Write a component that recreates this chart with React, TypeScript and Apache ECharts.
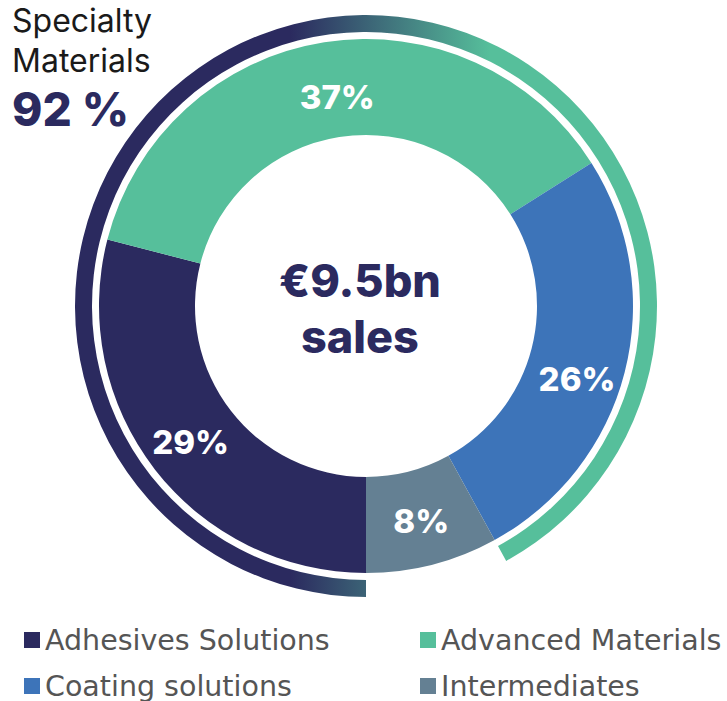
import React, { useEffect, useRef } from "react";
import * as echarts from "echarts";

const categories = ["Adhesives Solutions", "Advanced Materials", "Coating solutions", "Intermediates"];
const shares = [29, 37, 26, 8];
const colors = ["#2b2a5f", "#56bf9b", "#3d74b9", "#648093"];
const specialtyShare = 92;
const centerLines = ["€9.5bn", "sales"];
// legend layout: [name, column, row]
const legendCells: [string, number, number][] = [
  ["Adhesives Solutions", 0, 0],
  ["Advanced Materials", 1, 0],
  ["Coating solutions", 0, 1],
  ["Intermediates", 1, 1],
];

export default function App() {
  const ref = useRef<HTMLDivElement>(null);
  useEffect(() => {
    if (!ref.current) return;
    const chart = echarts.init(ref.current, null, { renderer: "svg" });
    const cx = 366, cy = 306;
    const ringGradient = new echarts.graphic.LinearGradient(290, 0, 490, 0, [
      { offset: 0, color: colors[0] },
      { offset: 1, color: colors[1] },
    ], true);
    const legendText = { fontFamily: "DejaVu Sans", fontSize: 28.5, color: "#555555", lineHeight: 30 };
    const labelOffsets: Record<string, number[]> = {
      "Advanced Materials": [6, 10],
      "Coating solutions": [-4, 18],
      "Adhesives Solutions": [0, 0],
      "Intermediates": [0, 0],
    };
    chart.setOption({
      animation: false,
      legend: legendCells.map(([name, col, row]) => ({
        data: [name], orient: "vertical", left: col === 0 ? 19 : 415, top: row === 0 ? 620 : 666,
        icon: "rect", itemWidth: 16, itemHeight: 16, textStyle: legendText, selectedMode: false,
      })),
      graphic: [
        { type: "text", left: 12, top: 4, style: { text: "Specialty", font: "400 32px Inter", fill: "#1a1a1a" } },
        { type: "text", left: 12, top: 44, style: { text: "Materials", font: "400 32px Inter", fill: "#1a1a1a" } },
        { type: "text", left: 12, top: 86, style: { text: specialtyShare + " %", font: "800 46px Inter", fill: colors[0] } },
        { type: "text", x: 360, y: 280, style: { text: centerLines[0], font: "800 45px Inter", fill: colors[0], align: "center", verticalAlign: "middle" } },
        { type: "text", x: 360, y: 336, style: { text: centerLines[1], font: "800 45px Inter", fill: colors[0], align: "center", verticalAlign: "middle" } },
      ],
      series: [
        {
          type: "pie",
          center: [cx, cy],
          radius: [171, 267],
          startAngle: -90,
          clockwise: true,
          silent: true,
          label: {
            show: true, position: "inside", formatter: "{c}%",
            color: "#ffffff", fontFamily: "Inter", fontWeight: 800, fontSize: 33,
          },
          labelLine: { show: false },
          data: categories.map((n, i) => ({
            name: n, value: shares[i], itemStyle: { color: colors[i] },
            label: { offset: labelOffsets[n] },
          })),
        },
        {
          type: "pie",
          center: [cx, cy],
          radius: [274, 291],
          startAngle: -90,
          clockwise: true,
          silent: true,
          label: { show: false },
          labelLine: { show: false },
          data: [
            { name: "Specialty Materials", value: specialtyShare, itemStyle: { color: ringGradient } },
            { name: "rest", value: 100 - specialtyShare, itemStyle: { color: "rgba(0,0,0,0)" } },
          ],
        },
      ],
    });
    return () => chart.dispose();
  }, []);
  return <div ref={ref} style={{ position: "absolute", left: 0, top: 0, width: 727, height: 701 }} />;
}
